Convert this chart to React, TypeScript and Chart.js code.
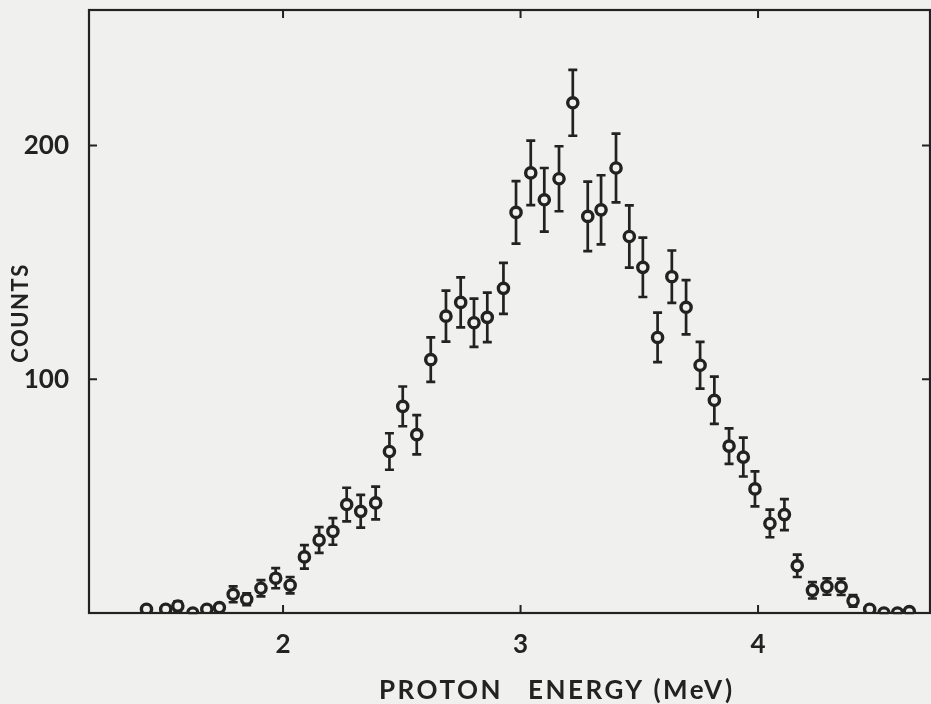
import React, { useEffect, useRef } from "react";
import { Chart, registerables } from "chart.js";

Chart.register(...registerables);

// Proton energy (MeV) of each channel
const energy = [
  1.425, 1.506, 1.557, 1.62, 1.679, 1.732, 1.79, 1.847, 1.907, 1.969,
  2.03, 2.09, 2.152, 2.21, 2.268, 2.327, 2.39, 2.448, 2.504, 2.563,
  2.622, 2.686, 2.748, 2.804, 2.86, 2.928, 2.981, 3.043, 3.1, 3.162,
  3.22, 3.283, 3.339, 3.402, 3.458, 3.515, 3.577, 3.637, 3.697, 3.756,
  3.816, 3.878, 3.938, 3.987, 4.05, 4.111, 4.165, 4.229, 4.29, 4.35,
  4.4, 4.47, 4.53, 4.587, 4.637,
];

// Counts per channel
const counts = [
  1.6, 1.6, 3, 0, 1.6, 2.3, 8, 5.9, 10.6, 14.9,
  11.9, 24, 31.2, 34.9, 46.4, 43.5, 47.1, 69.1, 88.4, 76.3,
  108.4, 127, 132.9, 124.2, 126.5, 138.9, 171.4, 188.3, 176.8, 185.8,
  218.3, 169.7, 172.5, 190.4, 161.1, 147.9, 117.9, 143.9, 130.8, 106,
  91, 71.4, 66.7, 53.1, 38.3, 42.1, 20.2, 9.7, 11.3, 11.2,
  5.2, 1.6, 0, 0, 0.6,
];

// Half-length of each error bar (counts)
const errors = [
  1.5, 1.5, 2, 1, 1.5, 1.5, 3.4, 2.5, 3.5, 4.3,
  3.5, 5, 5.5, 5.7, 7.2, 7, 7, 7.8, 8.5, 8.4,
  9.5, 10.9, 10.7, 10.3, 10.6, 10.9, 13.4, 13.8, 13.6, 13.9,
  14.1, 14.9, 14.8, 14.7, 13.3, 12.7, 10.6, 11.2, 11.6, 10,
  10.1, 7.6, 8.3, 7.5, 5.9, 6.6, 4.8, 3.5, 3.5, 3.5,
  2.5, 1.5, 1, 1, 1,
];

const xTickValues = [2, 3, 4];
const yTickValues = [100, 200];

const INK = "#222222";
const PAPER = "#f0f0ee";
const FONT = "Lato, 'DejaVu Sans', sans-serif";

export default function App() {
  const canvasRef = useRef<HTMLCanvasElement | null>(null);

  useEffect(() => {
    const canvas = canvasRef.current;
    if (!canvas) return;
    const points = energy.map((e, i) => ({ x: e, y: counts[i] }));

    const paperPlugin = {
      id: "paper",
      beforeDraw(chart: any) {
        const ctx = chart.ctx;
        ctx.save();
        ctx.fillStyle = PAPER;
        ctx.fillRect(0, 0, chart.width, chart.height);
        ctx.restore();
      },
    };

    const errorBarPlugin = {
      id: "errorBars",
      beforeDatasetsDraw(chart: any) {
        const ctx = chart.ctx;
        const xs = chart.scales.x;
        const ys = chart.scales.y;
        ctx.save();
        ctx.strokeStyle = INK;
        ctx.lineWidth = 2.7;
        ctx.lineCap = "butt";
        energy.forEach((e, i) => {
          const px = xs.getPixelForValue(e);
          const top = ys.getPixelForValue(counts[i] + errors[i]);
          const bot = ys.getPixelForValue(Math.max(0, counts[i] - errors[i]));
          ctx.beginPath();
          ctx.moveTo(px, top);
          ctx.lineTo(px, bot);
          ctx.moveTo(px - 4.5, top);
          ctx.lineTo(px + 4.5, top);
          ctx.moveTo(px - 4.5, bot);
          ctx.lineTo(px + 4.5, bot);
          ctx.stroke();
        });
        ctx.restore();
      },
    };

    const framePlugin = {
      id: "frame",
      afterDraw(chart: any) {
        const ctx = chart.ctx;
        const a = chart.chartArea;
        const xs = chart.scales.x;
        const ys = chart.scales.y;
        ctx.save();
        ctx.strokeStyle = INK;
        ctx.lineWidth = 2.2;
        ctx.strokeRect(a.left, a.top, a.right - a.left, a.bottom - a.top);
        ctx.lineWidth = 2;
        const tl = 8;
        ctx.beginPath();
        xTickValues.forEach((v) => {
          const p = xs.getPixelForValue(v);
          ctx.moveTo(p, a.bottom);
          ctx.lineTo(p, a.bottom - tl);
          ctx.moveTo(p, a.top);
          ctx.lineTo(p, a.top + tl);
        });
        yTickValues.forEach((v) => {
          const p = ys.getPixelForValue(v);
          ctx.moveTo(a.left, p);
          ctx.lineTo(a.left + tl, p);
          ctx.moveTo(a.right, p);
          ctx.lineTo(a.right - tl, p);
        });
        ctx.stroke();

        // axis titles
        ctx.fillStyle = INK;
        (ctx as any).letterSpacing = "2.5px";
        ctx.font = `bold 26px ${FONT}`;
        ctx.textAlign = "left";
        ctx.textBaseline = "alphabetic";
        ctx.fillText("PROTON", 379, 699);
        ctx.fillText("ENERGY (MeV)", 528, 699);

        ctx.save();
        ctx.translate(28, 313);
        ctx.rotate(-Math.PI / 2);
        ctx.textAlign = "center";
        ctx.font = `bold 22px ${FONT}`;
        (ctx as any).letterSpacing = "1.5px";
        ctx.fillText("COUNTS", 0, 0);
        ctx.restore();
        ctx.restore();
      },
    };

    const chart = new Chart(canvas, {
      type: "scatter",
      data: {
        datasets: [
          {
            data: points,
            pointRadius: 5.1,
            pointBorderWidth: 3.4,
            pointBackgroundColor: PAPER,
            pointBorderColor: INK,
            pointHoverRadius: 5.1,
            showLine: false,
          },
          {
            data: points,
            pointRadius: 1.5,
            pointBorderWidth: 0,
            pointBackgroundColor: INK,
            pointBorderColor: INK,
            showLine: false,
          },
        ],
      },
      options: {
        responsive: false,
        animation: false,
        devicePixelRatio: 1,
        layout: { autoPadding: false, padding: { top: 10, right: 1, left: 0, bottom: 0 } },
        plugins: {
          legend: { display: false },
          tooltip: { enabled: false },
        },
        scales: {
          x: {
            type: "linear",
            min: 1.183,
            max: 4.724,
            afterBuildTicks: (s: any) => {
              s.ticks = xTickValues.map((v) => ({ value: v }));
            },
            afterFit: (s: any) => {
              s.height = 91;
              s.paddingLeft = 0;
              s.paddingRight = 0;
            },
            grid: { display: false },
            border: { display: false },
            ticks: {
              color: INK,
              padding: 8,
              font: { family: FONT, size: 26, weight: "bold" },
              maxRotation: 0,
            },
          },
          y: {
            type: "linear",
            min: 0,
            max: 258,
            afterBuildTicks: (s: any) => {
              s.ticks = yTickValues.map((v) => ({ value: v }));
            },
            afterFit: (s: any) => {
              s.width = 89;
              s.paddingTop = 0;
              s.paddingBottom = 0;
            },
            grid: { display: false },
            border: { display: false },
            ticks: {
              color: INK,
              padding: 12,
              font: { family: FONT, size: 26, weight: "bold" },
            },
          },
        },
      },
      plugins: [paperPlugin, errorBarPlugin, framePlugin],
    } as any);

    return () => chart.destroy();
  }, []);

  return (
    <div style={{ position: "fixed", left: 0, top: 0, width: 931, height: 704, background: PAPER }}>
      <canvas ref={canvasRef} width={931} height={704} style={{ display: "block" }} />
    </div>
  );
}
